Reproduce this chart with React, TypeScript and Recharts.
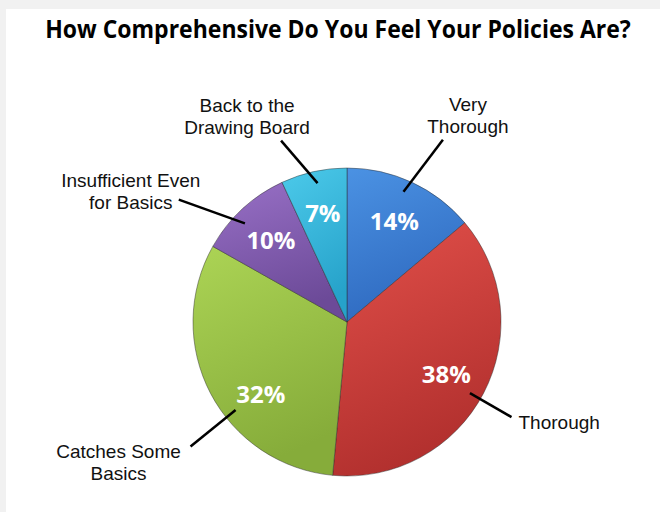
import { PieChart, Pie, Cell } from 'recharts';

const categories = [
  'Very Thorough',
  'Thorough',
  'Catches Some Basics',
  'Insufficient Even for Basics',
  'Back to the Drawing Board'
];
const shares = [14, 38, 32, 10, 7];
const labelLines = [
  ['Very', 'Thorough'],
  ['Thorough'],
  ['Catches Some', 'Basics'],
  ['Insufficient Even', 'for Basics'],
  ['Back to the', 'Drawing Board']
];

const data = categories.map((name, i) => ({ name, value: shares[i] }));

// light / dark ends of each slice gradient
const colors = [
  ['#4b92e3', '#2f6ac0'],
  ['#e2504a', '#b2302e'],
  ['#acd455', '#86ac3a'],
  ['#9870c6', '#6c4a98'],
  ['#4ccaea', '#26a2ca']
];

// label placement tweaks: angle shifts are clockwise degrees from the slice middle
const place = [
  { inShift: 0, startShift: -1.5, endShift: 2.8, endR: 206, dx: 25, dy: -29, anchor: 'middle' },
  { inShift: 0, startShift: 2.4, endShift: 2.4, endR: 190, dx: 7, dy: 12, anchor: 'start' },
  { inShift: -12, startShift: -10.7, endShift: -10.9, endR: 200, dx: -72, dy: 11, anchor: 'middle' },
  { inShift: 0, startShift: -3.2, endShift: -11.2, endR: 208, dx: -48, dy: -13, anchor: 'middle' },
  { inShift: 0, startShift: 0.5, endShift: -7.5, endR: 193, dx: -34, dy: -29, anchor: 'middle' }
];

const RAD = Math.PI / 180;
const titleFont = "'Open Sans', sans-serif";
const labelFont = "'Liberation Sans', Arial, sans-serif";
const titleScale = 0.92;

const polar = (cx: number, cy: number, r: number, deg: number) => ({
  x: cx + r * Math.cos(deg * RAD),
  y: cy - r * Math.sin(deg * RAD)
});

const renderLabel = (props: any) => {
  const { cx, cy, midAngle, index, value } = props;
  const p = place[index];
  const inner = polar(cx, cy, 112, midAngle - p.inShift);
  const s = polar(cx, cy, 142, midAngle - p.startShift);
  const e = polar(cx, cy, p.endR, midAngle - p.endShift);
  const lines = labelLines[index];
  return (
    <g>
      <text
        x={inner.x}
        y={inner.y}
        fill='#fff'
        textAnchor='middle'
        dominantBaseline='central'
        fontFamily={titleFont}
        fontWeight={700}
        fontSize={24}
      >
        {value}%
      </text>
      <line x1={s.x} y1={s.y} x2={e.x} y2={e.y} stroke='#000' strokeWidth={2.5} />
      <text
        x={e.x + p.dx}
        y={e.y + p.dy}
        fill='#111'
        textAnchor={p.anchor}
        fontFamily={labelFont}
        fontSize={19}
      >
        {lines.map((l, k) => (
          <tspan key={k} x={e.x + p.dx} dy={k === 0 ? 0 : 22}>
            {l}
          </tspan>
        ))}
      </text>
    </g>
  );
};

const App = () => (
  <div
    style={{
      position: 'absolute',
      left: 0,
      top: 0,
      width: 660,
      height: 512,
      background: '#f1f1f1'
    }}
  >
    <div
      style={{
        position: 'absolute',
        left: 6,
        top: 9,
        width: 654,
        height: 503,
        background: '#fff'
      }}
    />
    <svg
      width={660}
      height={60}
      style={{ position: 'absolute', left: 0, top: 0 }}
    >
      <g transform={`scale(${titleScale},1)`}>
        <text
          x={338 / titleScale}
          y={38}
          textAnchor='middle'
          fontFamily={titleFont}
          fontWeight={700}
          fontSize={25}
          fill='#000'
        >
          How Comprehensive Do You Feel Your Policies Are?
        </text>
      </g>
    </svg>
    <div style={{ position: 'absolute', left: 0, top: 0 }}>
      <PieChart width={660} height={512} margin={{ top: 0, right: 0, bottom: 0, left: 0 }}>
        <defs>
          {colors.map((c, i) => (
            <linearGradient key={i} id={`slice${i}`} x1='0' y1='0' x2='0.3' y2='1'>
              <stop offset='0%' stopColor={c[0]} />
              <stop offset='100%' stopColor={c[1]} />
            </linearGradient>
          ))}
        </defs>
        <Pie
          data={data}
          dataKey='value'
          nameKey='name'
          cx={347}
          cy={322}
          outerRadius={154}
          startAngle={90}
          endAngle={-270}
          stroke='rgba(40,40,40,0.45)'
          strokeWidth={1}
          label={renderLabel}
          labelLine={false}
          isAnimationActive={false}
        >
          {data.map((d, i) => (
            <Cell key={d.name} fill={`url(#slice${i})`} />
          ))}
        </Pie>
      </PieChart>
    </div>
  </div>
);

export default App;
